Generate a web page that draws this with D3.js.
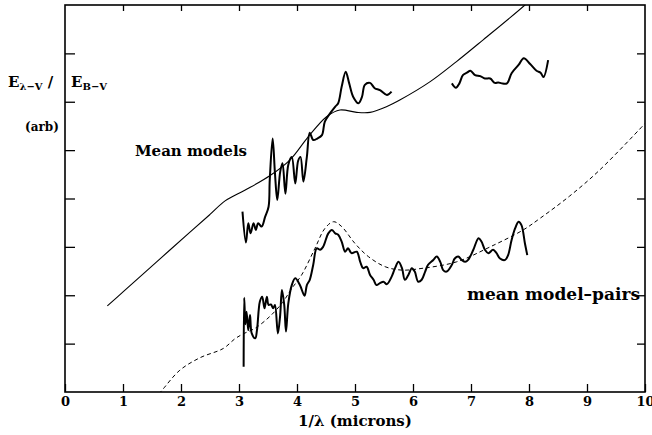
<!DOCTYPE html>
<html>
<head>
<meta charset="utf-8">
<script src="https://cdn.jsdelivr.net/npm/d3@7"></script>
<style>
    body { margin: 0; background: #fff; }
    svg { display: block; font-family: 'DejaVu Serif', serif; font-weight: bold; }
</style>
</head>
<body>
<div id="svg_wrapper"></div>
<script>
// x = 1/lambda (microns^-1), y = E(l-V)/E(B-V), arbitrary offsets
const xTicks = [0, 1, 2, 3, 4, 5, 6, 7, 8, 9, 10];
const yTicks = [1, 2, 3, 4, 5, 6, 7];

// smooth mean model curve
const meanModel = [
    [0.73, 1.78], [1.01, 2.08], [1.58, 2.69], [2.16, 3.31], [2.50, 3.67], [2.76, 3.95],
    [3.10, 4.17], [3.53, 4.47], [3.88, 4.80], [4.19, 5.27], [4.51, 5.69], [4.74, 5.83],
    [5.03, 5.78], [5.26, 5.78], [5.55, 5.90], [5.78, 6.04], [6.29, 6.41], [6.75, 6.83],
    [7.21, 7.28], [7.93, 8.00], [8.15, 8.25]
];

// observed mean curve, first piece
const meanObsA = [
    [3.06, 3.73], [3.12, 3.09], [3.16, 3.49], [3.20, 3.28], [3.25, 3.49], [3.29, 3.35],
    [3.33, 3.49], [3.39, 3.42], [3.45, 3.62], [3.51, 3.83], [3.53, 4.38], [3.58, 5.24],
    [3.62, 4.52], [3.66, 3.97], [3.71, 4.55], [3.75, 4.73], [3.80, 4.10], [3.85, 4.70],
    [3.91, 4.86], [3.97, 4.31], [4.02, 4.78], [4.06, 4.86], [4.11, 4.35], [4.17, 4.86],
    [4.22, 5.36], [4.28, 5.21], [4.35, 5.24], [4.43, 5.31], [4.48, 5.59], [4.57, 5.76],
    [4.66, 5.90], [4.71, 5.97], [4.77, 6.31], [4.84, 6.62], [4.90, 6.38], [4.97, 6.10],
    [5.06, 5.97], [5.12, 6.10], [5.17, 6.35], [5.26, 6.39], [5.34, 6.28], [5.43, 6.24],
    [5.55, 6.14], [5.63, 6.21]
];

// observed mean curve, second piece
const meanObsB = [
    [6.67, 6.38], [6.74, 6.29], [6.80, 6.38], [6.86, 6.55], [6.93, 6.60], [6.99, 6.64],
    [7.07, 6.55], [7.16, 6.53], [7.24, 6.48], [7.33, 6.48], [7.41, 6.39], [7.47, 6.40],
    [7.53, 6.38], [7.62, 6.38], [7.70, 6.59], [7.82, 6.76], [7.91, 6.90], [8.02, 6.78],
    [8.13, 6.64], [8.20, 6.60], [8.25, 6.51], [8.33, 6.86]
];

// model pairs curve (dashed)
const pairModel = [
    [1.62, -0.04], [1.69, 0.06], [1.98, 0.45], [2.33, 0.71], [2.73, 0.90], [2.93, 1.10],
    [3.07, 1.20], [3.28, 1.32], [3.53, 1.56], [3.75, 1.85], [3.91, 2.14], [4.08, 2.42],
    [4.31, 2.97], [4.48, 3.38], [4.63, 3.52], [4.77, 3.42], [5.00, 3.07], [5.23, 2.80],
    [5.52, 2.59], [5.81, 2.52], [6.18, 2.56], [6.75, 2.69], [7.33, 3.00], [7.90, 3.35],
    [8.19, 3.59], [8.70, 4.05], [9.22, 4.59], [10.00, 5.55]
];

// observed pairs curve
const pairObs = [
    [3.08, 0.52], [3.09, 1.95], [3.11, 1.40], [3.13, 1.66], [3.16, 1.28], [3.19, 1.59],
    [3.22, 1.21], [3.28, 1.11], [3.31, 1.28], [3.36, 1.87], [3.40, 1.97], [3.44, 1.73],
    [3.48, 1.97], [3.51, 1.80], [3.55, 1.81], [3.59, 1.73], [3.62, 1.80], [3.67, 1.21],
    [3.71, 1.59], [3.74, 2.11], [3.78, 1.80], [3.81, 1.25], [3.85, 1.83], [3.91, 2.21],
    [3.97, 2.35], [4.05, 2.21], [4.13, 1.99], [4.17, 2.21], [4.22, 2.32], [4.28, 2.63],
    [4.34, 2.97], [4.40, 2.94], [4.45, 3.00], [4.54, 3.28], [4.60, 3.35], [4.66, 3.28],
    [4.71, 3.25], [4.77, 3.11], [4.83, 2.90], [4.88, 2.97], [4.94, 2.87], [5.03, 2.90],
    [5.09, 2.69], [5.14, 2.56], [5.20, 2.59], [5.26, 2.42], [5.32, 2.32], [5.37, 2.21],
    [5.43, 2.25], [5.49, 2.28], [5.55, 2.23], [5.63, 2.38], [5.69, 2.56], [5.75, 2.69],
    [5.81, 2.56], [5.86, 2.32], [5.92, 2.42], [5.98, 2.56], [6.03, 2.49], [6.09, 2.28],
    [6.15, 2.32], [6.21, 2.49], [6.26, 2.63], [6.35, 2.73], [6.41, 2.80], [6.47, 2.69],
    [6.52, 2.52], [6.58, 2.49], [6.67, 2.63], [6.72, 2.76], [6.78, 2.80], [6.84, 2.73],
    [6.90, 2.69], [6.95, 2.73], [7.04, 2.94], [7.13, 3.18], [7.18, 3.11], [7.24, 2.94],
    [7.30, 2.87], [7.38, 2.94], [7.44, 2.87], [7.50, 2.76], [7.59, 2.73], [7.64, 2.83],
    [7.70, 3.14], [7.76, 3.38], [7.82, 3.52], [7.87, 3.45], [7.93, 3.07], [7.97, 2.83]
];

function renderChart() {
    const width = 652, height = 435;
    const left = 65, right = 645, top = 5, bottom = 392;

    const svg = d3.select('#svg_wrapper')
    .append('svg')
    .attr('width', width)
    .attr('height', height);

    const x = d3.scaleLinear().domain([0, 10]).range([left, right]);
    const y = d3.scaleLinear().domain([0, 8]).range([bottom, top]);

    svg.append('clipPath')
    .attr('id', 'frame_clip')
    .append('rect')
    .attr('x', left)
    .attr('y', top)
    .attr('width', right - left)
    .attr('height', bottom - top);

    // axes, ticks pointing inward
    svg.append('g')
    .attr('transform', `translate(0,${bottom})`)
    .call(d3.axisBottom(x).tickValues(xTicks).tickSizeInner(-8).tickSizeOuter(0).tickPadding(5).tickFormat(d3.format('d')))
    .call(g => g.selectAll('text').attr('font-size', 13).attr('font-family', 'DejaVu Serif').attr('font-weight', 'bold').attr('fill', '#000'));

    svg.append('g')
    .attr('transform', `translate(0,${top})`)
    .call(d3.axisTop(x).tickValues(xTicks.slice(1, -1)).tickSizeInner(-6).tickSizeOuter(0).tickFormat(''));

    svg.append('g')
    .attr('transform', `translate(${left},0)`)
    .call(d3.axisLeft(y).tickValues(yTicks).tickSizeInner(-10).tickSizeOuter(0).tickFormat(''));

    svg.append('g')
    .attr('transform', `translate(${right},0)`)
    .call(d3.axisRight(y).tickValues(yTicks).tickSizeInner(-8).tickSizeOuter(0).tickFormat(''));

    svg.selectAll('.domain').remove();
    svg.selectAll('.tick line').attr('stroke', '#000').attr('stroke-width', 1.3);

    svg.append('rect')
    .attr('x', left)
    .attr('y', top)
    .attr('width', right - left)
    .attr('height', bottom - top)
    .attr('fill', 'none')
    .attr('stroke', '#000')
    .attr('stroke-width', 1.6);

    // curves
    const smooth = d3.line()
    .x(d => x(d[0]))
    .y(d => y(d[1]))
    .curve(d3.curveCatmullRom.alpha(0.5));

    const plot = svg.append('g').attr('clip-path', 'url(#frame_clip)');

    plot.append('path')
    .attr('d', smooth(meanModel))
    .attr('fill', 'none')
    .attr('stroke', '#000')
    .attr('stroke-width', 1.1);

    plot.append('path')
    .attr('d', smooth(pairModel))
    .attr('fill', 'none')
    .attr('stroke', '#000')
    .attr('stroke-width', 1)
    .attr('stroke-dasharray', '4,3');

    [meanObsA, meanObsB, pairObs].forEach(series => {
        plot.append('path')
        .attr('d', smooth(series))
        .attr('fill', 'none')
        .attr('stroke', '#000')
        .attr('stroke-width', 2)
        .attr('stroke-linejoin', 'round');
    });

    // labels
    svg.append('text')
    .attr('x', 135)
    .attr('y', 156)
    .attr('font-size', 15)
    .text('Mean models');

    svg.append('text')
    .attr('x', 467)
    .attr('y', 300)
    .attr('font-size', 17)
    .text('mean model–pairs');

    svg.append('text')
    .attr('x', 355)
    .attr('y', 426)
    .attr('text-anchor', 'middle')
    .attr('font-size', 15)
    .text('1/λ (microns)');

    const ylab = svg.append('text')
    .attr('x', 8)
    .attr('y', 87)
    .attr('font-size', 15);

    ylab.append('tspan').text('E');
    ylab.append('tspan').attr('font-size', 10).attr('dy', 3).text('λ−V');
    ylab.append('tspan').attr('dy', -3).text(' / ');
    ylab.append('tspan').attr('x', 71).text('E');
    ylab.append('tspan').attr('font-size', 10).attr('dy', 3).text('B−V');

    svg.append('text')
    .attr('x', 25)
    .attr('y', 131)
    .attr('font-size', 12)
    .text('(arb)');
}

renderChart();
</script>
</body>
</html>
